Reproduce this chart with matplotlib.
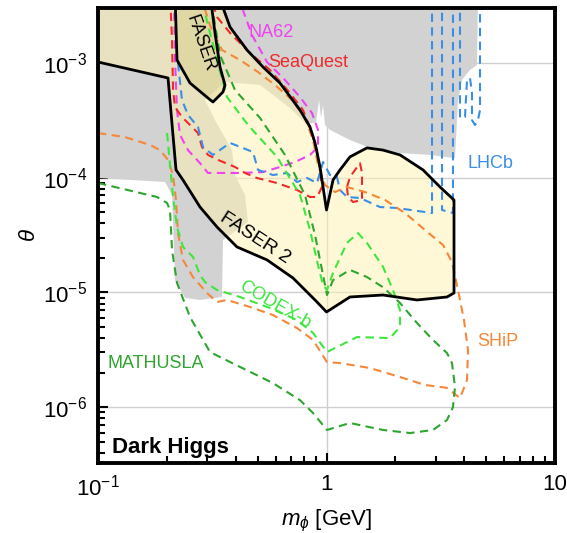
import matplotlib
matplotlib.use("Agg")
import matplotlib.pyplot as plt
from matplotlib.ticker import NullFormatter, LogLocator

plt.rcParams["font.family"] = ["Liberation Sans", "DejaVu Sans"]
plt.rcParams["mathtext.fontset"] = "custom"
plt.rcParams["mathtext.rm"] = "Liberation Sans"
plt.rcParams["mathtext.it"] = "Liberation Sans:italic"

TOP = 4e-3   # curves that leave through the top of the frame

# ── data (m_phi [GeV], theta) ──────────────────────────────────────
excl_m = [0.1, 0.1965, 0.2109, 0.2173, 0.2403, 0.2795, 0.3489, 0.3524, 0.4534,
          0.4399, 0.3977, 0.3859, 0.3251, 0.2940, 0.3596, 0.5117, 0.6920, 0.8052,
          0.8995, 0.9273, 0.9461, 0.9654, 0.9850, 1.036, 1.267, 1.550, 2.097,
          2.838, 3.651, 3.763, 3.917, 4.246, 4.556, 4.603, 0.1]
excl_t = [9.94e-5, 9.17e-5, 7.07e-5, 1.28e-5, 8.94e-6, 8.59e-6, 9.12e-6, 2.86e-5, 4.11e-5,
          7.07e-5, 1.055e-4, 1.74e-4, 3.18e-4, 4.76e-4, 6.83e-4, 6.43e-4, 4.05e-4, 3.00e-4,
          3.00e-4, 4.76e-4, 3.32e-4, 4.30e-4, 2.88e-4, 2.61e-4, 2.13e-4, 1.82e-4, 1.64e-4,
          1.58e-4, 1.48e-4, 4.76e-4, 7.11e-4, 8.69e-4, 9.61e-4, TOP, TOP]

faser2_m = [0.1, 0.2025, 0.2195, 0.2355, 0.2795, 0.3317, 0.4058, 0.5489, 0.7134, 0.8907,
            1.0, 1.267, 1.767, 2.489, 3.368, 3.614, 3.614, 3.139, 2.644, 2.097, 1.767,
            1.504, 1.267, 1.146, 1.068, 1.0, 0.9367, 0.8907, 0.8468, 0.7656, 0.6256,
            0.5273, 0.4488, 0.3782, 0.3351]
faser2_t = [1.02e-3, 7.40e-4, 1.17e-4, 9.55e-5, 5.55e-5, 3.72e-5, 2.49e-5, 1.92e-5, 1.335e-5,
            8.59e-6, 6.75e-6, 9.12e-6, 9.49e-6, 8.59e-6, 9.12e-6, 9.88e-6, 6.39e-5, 8.30e-5,
            1.17e-4, 1.58e-4, 1.74e-4, 1.82e-4, 1.52e-4, 1.17e-4, 9.55e-5, 5.23e-5, 1.24e-4,
            2.01e-4, 2.77e-4, 3.89e-4, 6.69e-4, 9.23e-4, 1.298e-3, 2.06e-3, TOP]

faser_m = [0.2173, 0.2217, 0.2527, 0.3029, 0.3186, 0.3524, 0.3596, 0.3419, 0.3251, 0.3091]
faser_t = [TOP, 1.062e-3, 6.69e-4, 4.95e-4, 4.57e-4, 5.59e-4, 6.43e-4, 9.23e-4, 1.83e-3, TOP]

na62_m = [0.2151, 0.2173, 0.2217, 0.2285, 0.2477, 0.2795, 0.3029, 0.4183, 0.5273, 0.6256,
          0.7280, 0.8468, 0.9180, 0.9180, 0.8642, 0.7656, 0.6581, 0.5489, 0.4720, 0.4058]
na62_t = [TOP, 1.062e-3, 3.89e-4, 2.36e-4, 1.74e-4, 1.34e-4, 1.10e-4, 1.10e-4, 1.12e-4, 1.24e-4,
          1.37e-4, 1.58e-4, 1.85e-4, 2.61e-4, 3.66e-4, 5.05e-4, 7.11e-4, 1.02e-3, 1.754e-3, TOP]

seaquest_m = [0.2066, 0.2109, 0.2130, 0.2173, 0.2331, 0.2578, 0.2739, 0.2852, 0.3029, 0.3351,
              0.3977, 0.4399, 0.4963, 0.6071, 0.7428, 0.8468, 0.9088, 0.9557, 0.9367, 0.9088,
              0.8642, 0.7891, 0.6920, 0.5656, 0.4626, 0.3782, 0.3317, 0.3091]
seaquest_t = [TOP, 1.587e-3, 5.81e-4, 4.13e-4, 3.38e-4, 2.77e-4, 2.45e-4, 1.85e-4, 1.58e-4, 1.43e-4,
              1.24e-4, 1.10e-4, 9.94e-5, 8.99e-5, 7.81e-5, 6.79e-5, 6.79e-5, 8.30e-5, 1.10e-4, 1.74e-4,
              2.45e-4, 3.89e-4, 5.48e-4, 8.69e-4, 1.222e-3, 1.83e-3, 2.52e-3, TOP]
seaquest2_m = [1.229, 1.267, 1.401, 1.430, 1.430, 1.306, 1.242, 1.229]
seaquest2_t = [8.30e-5, 1.014e-4, 1.34e-4, 1.10e-4, 6.39e-5, 6.14e-5, 6.79e-5, 8.30e-5]

lhcb_m = [0.2239, 0.2331, 0.2477, 0.2739, 0.2881, 0.3186, 0.3782, 0.4767, 0.5013, 0.5832,
          0.6715, 0.7428, 0.8216, 0.9088, 0.9654, 1.036, 1.111, 1.146, 1.229, 1.401, 1.714,
          2.035, 2.896, 2.896]
lhcb_t = [1.0e-3, 4.76e-4, 3.52e-4, 2.77e-4, 1.85e-4, 1.58e-4, 2.01e-4, 1.675e-4, 1.17e-4, 1.055e-4,
          1.10e-4, 9.17e-5, 9.94e-5, 8.99e-5, 1.37e-4, 1.055e-4, 1.014e-4, 7.81e-5, 6.79e-5, 6.65e-5,
          5.55e-5, 5.44e-5, 4.92e-5, TOP]
lhcb2_m = [3.203, 3.203, 3.577, 3.577]
lhcb2_t = [TOP, 5.23e-5, 4.92e-5, TOP]
lhcb3_m = [3.839, 3.839, 4.037, 4.120, 4.246, 4.333, 4.333, 4.466, 4.603, 4.697, 4.697]
lhcb3_t = [TOP, 3.32e-4, 3.38e-4, 7.11e-4, 7.40e-4, 5.48e-4, 3.18e-4, 2.88e-4, 3.18e-4, 3.89e-4, TOP]

ship_m = [0.1, 0.1312, 0.169, 0.1868, 0.2025, 0.2130, 0.2195, 0.2239, 0.2355, 0.2604, 0.2999,
          0.3317, 0.3669, 0.4626, 0.5832, 0.7428, 0.8730, 1.005, 1.146, 1.550, 2.097, 2.698,
          3.368, 3.839, 4.120, 4.162, 3.997, 3.763, 3.541, 3.235, 2.698, 2.206, 1.803, 1.474,
          1.229, 1.090, 0.985, 0.918, 0.873, 0.8052, 0.7063, 0.5950, 0.5013, 0.4183, 0.3489,
          0.3091, 0.2795]
ship_t = [2.45e-4, 2.26e-4, 1.93e-4, 1.74e-4, 1.43e-4, 1.055e-4, 6.39e-5, 3.29e-5, 1.92e-5, 1.36e-5,
          9.88e-6, 8.25e-6, 8.59e-6, 7.46e-6, 6.35e-6, 4.89e-6, 3.85e-6, 2.47e-6, 2.42e-6, 2.19e-6,
          1.83e-6, 1.56e-6, 1.47e-6, 1.20e-6, 1.72e-6, 3.15e-6, 5.74e-6, 1.05e-5, 1.84e-5, 2.59e-5,
          3.50e-5, 4.92e-5, 6.39e-5, 7.50e-5, 8.30e-5, 7.50e-5, 8.64e-5, 1.29e-4, 2.13e-4, 3.32e-4,
          4.76e-4, 6.43e-4, 8.35e-4, 1.062e-3, 1.298e-3, 2.14e-3, TOP]

mathusla_m = [0.1, 0.1812, 0.2005, 0.2066, 0.2109, 0.2217, 0.2527, 0.3091, 0.4183, 0.5832,
              0.7656, 0.8730, 1.005, 1.267, 1.767, 2.320, 2.925, 3.368, 3.577, 3.651, 3.541,
              3.368, 2.925, 2.489, 2.097, 1.767, 1.504, 1.267, 1.068, 1.005, 0.9557, 0.8907,
              0.8052, 0.6581, 0.5117, 0.3977, 0.3419, 0.3091]
mathusla_t = [8.99e-5, 6.79e-5, 6.02e-5, 5.23e-5, 2.34e-5, 1.21e-5, 6.10e-6, 3.02e-6, 2.24e-6, 1.62e-6,
              1.15e-6, 8.88e-7, 6.32e-7, 7.27e-7, 6.32e-7, 5.94e-7, 6.32e-7, 7.72e-7, 1.00e-6, 1.50e-6,
              2.42e-6, 2.96e-6, 3.85e-6, 5.41e-6, 8.09e-6, 1.11e-5, 1.36e-5, 1.57e-5, 1.28e-5, 9.49e-6,
              1.57e-5, 3.17e-5, 7.07e-5, 1.58e-4, 3.32e-4, 5.81e-4, 1.174e-3, TOP]

codexb_m = [0.2005, 0.2130, 0.2217, 0.2355, 0.2604, 0.2795, 0.2940, 0.3317, 0.4183, 0.5656,
            0.7428, 0.8730, 1.005, 1.360, 1.897, 2.097, 2.097, 1.954, 1.767, 1.504, 1.373,
            1.229, 1.068, 1.005, 0.9654, 0.9180, 0.8468, 0.7656, 0.6071, 0.4534, 0.3669,
            0.3317, 0.2795]
codexb_t = [2.45e-4, 6.79e-5, 3.72e-5, 2.49e-5, 2.04e-5, 1.42e-5, 1.23e-5, 1.05e-5, 9.12e-6, 7.31e-6,
            5.74e-6, 4.43e-6, 3.02e-6, 4.08e-6, 4.00e-6, 4.99e-6, 7.02e-6, 1.05e-5, 1.67e-5, 2.70e-5,
            3.29e-5, 2.70e-5, 1.48e-5, 1.05e-5, 1.16e-5, 1.73e-5, 3.50e-5, 7.07e-5, 1.52e-4, 2.88e-4,
            5.05e-4, 1.062e-3, TOP]

x_ticks = [0.1, 1, 10]
x_ticklabels = ["$10^{-1}$", "1", "10"]
y_ticks = [1e-6, 1e-5, 1e-4, 1e-3]
y_ticklabels = ["$10^{-6}$", "$10^{-5}$", "$10^{-4}$", "$10^{-3}$"]

GRAY   = "#d2d2d2"
YELLOW = "#fff3b0"
DASH   = (0, (4, 2.6))

C_NA62 = "#ee44ee"
C_SEA  = "#ee2a2a"
C_LHCB = "#3a8ee8"
C_SHIP = "#f5873a"
C_MATH = "#2ea52e"
C_CODX = "#3ee63e"

fig = plt.figure(figsize=(5.67, 5.33), dpi=100)
ax = fig.add_axes([98 / 567, 70 / 533, 457 / 567, 455 / 533])
ax.set_xscale("log")
ax.set_yscale("log")
ax.set_xlim(0.1, 10)
ax.set_ylim(3.256e-7, 3.016e-3)

ax.grid(True, which="major", color="#cfcfcf", linewidth=1.0, zorder=0)
ax.set_axisbelow(True)

# excluded region and FASER sensitivities
ax.fill(excl_m, excl_t, color=GRAY, lw=0, zorder=1)
ax.fill(faser2_m + [0.1], faser2_t + [TOP], color=YELLOW, alpha=0.5, lw=0, zorder=2)
ax.fill(faser_m, faser_t, color="#cfc370", alpha=0.35, lw=0, zorder=2.5)

for m, t, c in [
    (na62_m, na62_t, C_NA62),
    (seaquest_m, seaquest_t, C_SEA),
    (seaquest2_m, seaquest2_t, C_SEA),
    (lhcb_m, lhcb_t, C_LHCB),
    (lhcb2_m, lhcb2_t, C_LHCB),
    (lhcb3_m, lhcb3_t, C_LHCB),
    (ship_m, ship_t, C_SHIP),
    (mathusla_m, mathusla_t, C_MATH),
    (codexb_m, codexb_t, C_CODX),
]:
    ax.plot(m, t, color=c, lw=1.5, linestyle=DASH, zorder=3)

ax.plot(faser2_m, faser2_t, color="black", lw=2.0, zorder=4)
ax.plot(faser_m, faser_t, color="black", lw=2.0, zorder=4)

# labels
ax.text(0.2795, 1.494e-3, "FASER", rotation=-71, fontsize=13, ha="center", va="center", zorder=5)
ax.text(0.4864, 2.98e-5, "FASER 2", rotation=-33, fontsize=14, ha="center", va="center", zorder=5)
ax.text(0.595, 7.77e-6, "CODEX-b", rotation=-30, fontsize=13, color=C_CODX,
        ha="center", va="center", zorder=5)
ax.text(0.1106, 2.42e-6, "MATHUSLA", fontsize=13, color=C_MATH, va="center", zorder=5)
ax.text(4.556, 3.70e-6, "SHiP", fontsize=13, color=C_SHIP, va="center", zorder=5)
ax.text(4.12, 1.34e-4, "LHCb", fontsize=13, color=C_LHCB, va="center", zorder=5)
ax.text(0.4534, 1.86e-3, "NA62", fontsize=13, color=C_NA62, va="center", zorder=5)
ax.text(0.5546, 1.0e-3, "SeaQuest", fontsize=13, color=C_SEA, va="center", zorder=5)
ax.text(0.031, 0.035, "Dark Higgs", transform=ax.transAxes, fontsize=16,
        fontweight="bold", va="center", zorder=5)

# axes styling
for sp in ax.spines.values():
    sp.set_linewidth(2.8)
    sp.set_zorder(6)
ax.set_xticks(x_ticks)
ax.set_xticklabels(x_ticklabels)
ax.set_yticks(y_ticks)
ax.set_yticklabels(y_ticklabels)
ax.xaxis.set_minor_locator(LogLocator(base=10, subs=range(2, 10), numticks=20))
ax.yaxis.set_minor_locator(LogLocator(base=10, subs=range(2, 10), numticks=20))
ax.xaxis.set_minor_formatter(NullFormatter())
ax.yaxis.set_minor_formatter(NullFormatter())
ax.tick_params(which="both", direction="in", top=False, right=False,
               width=1.5, labelsize=16, pad=8)
ax.tick_params(which="major", length=7)
ax.tick_params(which="minor", length=5)

ax.set_xlabel(r"$m_\phi$ [GeV]", fontsize=16, labelpad=6)
ax.set_ylabel(r"$\theta$", fontsize=16, labelpad=2)

fig.savefig("out.png", dpi=100)
